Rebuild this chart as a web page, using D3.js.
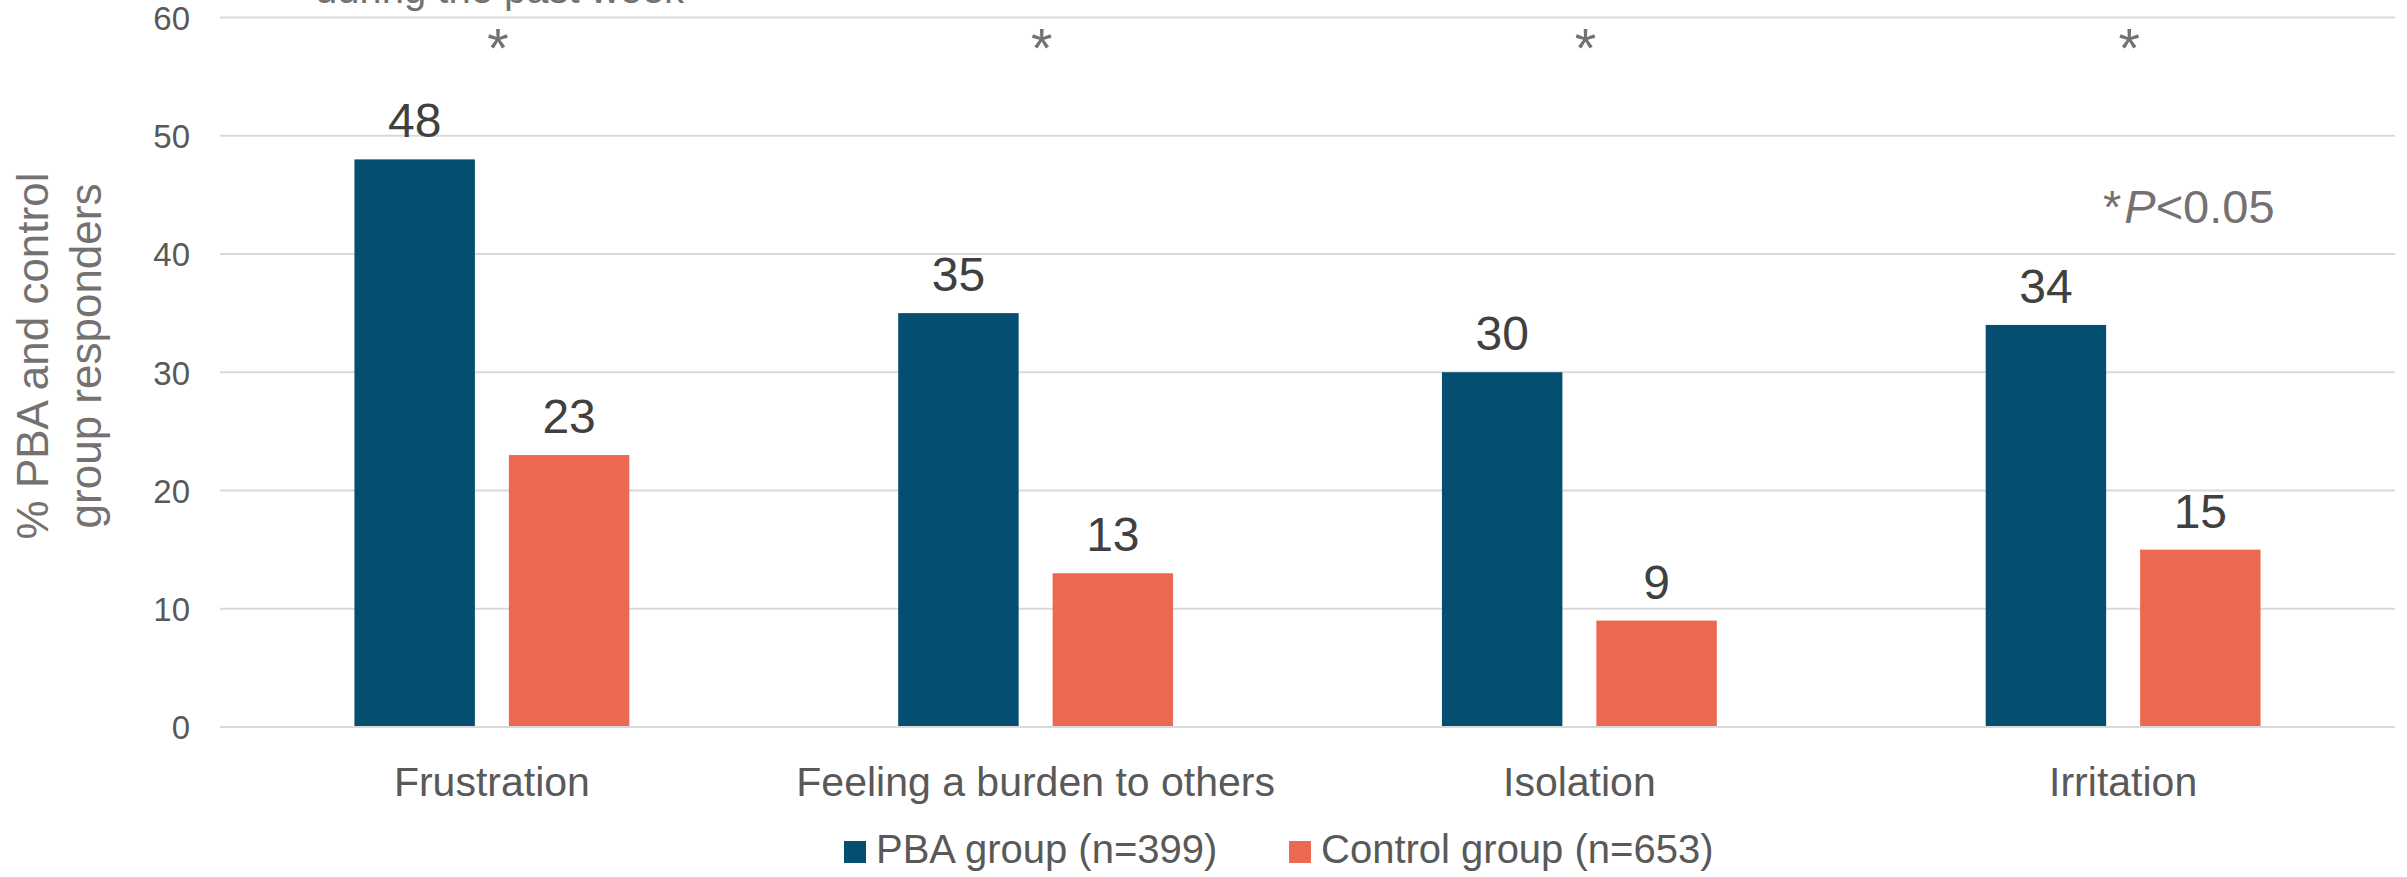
<!DOCTYPE html>
<html>
<head>
<meta charset="utf-8">
<script src="https://cdn.jsdelivr.net/npm/d3@7"></script>
<style>
  html, body { margin: 0; padding: 0; background: #fff; }
  svg { display: block; font-family: "Liberation Sans", Arial, sans-serif; }
</style>
</head>
<body>
<svg id="chart" width="2407" height="877"></svg>
<script>
// ---- data ----
const categories = ["Frustration", "Feeling a burden to others", "Isolation", "Irritation"];
const seriesNames = ["PBA group (n=399)", "Control group (n=653)"];
const pbaValues = [48, 35, 30, 34];
const controlValues = [23, 13, 9, 15];
const significant = [true, true, true, true];
const yTicks = [0, 10, 20, 30, 40, 50, 60];
const yTitleLines = ["% PBA and control", "group responders"];
const topTextLine = "during the past week";
const noteText = ["*", "P", "<0.05"];

// ---- layout ----
const plotLeft = 220, plotRight = 2395, plotTop = 17.5, plotBottom = 727;
const colors = ["#044E6F", "#EC6951"];

const svg = d3.select("#chart");

const x = d3.scaleBand().domain(categories).range([plotLeft, plotRight]).padding(0);
const groupW = x.bandwidth() * 0.5055;
const xs = d3.scaleBand().domain(seriesNames).range([0, groupW]).paddingInner(0.22).paddingOuter(0);
const y = d3.scaleLinear().domain([0, 60]).range([plotBottom, plotTop]);

// gridlines
svg.append("g")
  .selectAll("line")
  .data(yTicks)
  .join("line")
  .attr("x1", plotLeft).attr("x2", plotRight)
  .attr("y1", d => y(d)).attr("y2", d => y(d))
  .attr("stroke", "#D9D9D9").attr("stroke-width", 2);

// y tick labels
const yAxis = d3.axisLeft(y).tickValues(yTicks).tickSize(0).tickPadding(0);
const yg = svg.append("g").attr("transform", `translate(${plotLeft - 30},0)`).call(yAxis);
yg.select(".domain").remove();
yg.selectAll("text")
  .attr("font-family", "Liberation Sans, Arial, sans-serif")
  .attr("font-size", 33).attr("fill", "#595959").attr("dy", "0.36em");

// top partial line of title (cut off by the top edge, as in the source)
svg.append("text")
  .attr("x", 315).attr("y", 3)
  .attr("font-size", 40).attr("fill", "#767171")
  .text(topTextLine);

// y title
const yt = svg.append("g");
yTitleLines.forEach((t, i) => {
  yt.append("text")
    .attr("transform", `translate(${48 + i * 53},356) rotate(-90)`)
    .attr("text-anchor", "middle")
    .attr("font-size", 44).attr("fill", "#767171")
    .text(t);
});

// bars
const rows = categories.map((c, i) => ({ cat: c, vals: [pbaValues[i], controlValues[i]] }));
const groups = svg.append("g").selectAll("g")
  .data(rows).join("g")
  .attr("transform", d => `translate(${x(d.cat) + x.bandwidth() / 2 - groupW / 2},0)`);

groups.selectAll("rect")
  .data(d => d.vals.map((v, k) => ({ v, s: seriesNames[k], k })))
  .join("rect")
  .attr("x", d => xs(d.s))
  .attr("width", xs.bandwidth())
  .attr("y", d => y(d.v))
  .attr("height", d => y(0) - y(d.v))
  .attr("fill", d => colors[d.k]);

groups.selectAll("text.val")
  .data(d => d.vals.map((v, k) => ({ v, s: seriesNames[k], k })))
  .join("text").attr("class", "val")
  .attr("x", d => xs(d.s) + xs.bandwidth() / 2)
  .attr("y", d => y(d.v) - 22)
  .attr("text-anchor", "middle")
  .attr("font-size", 48).attr("fill", "#404040")
  .text(d => d.v);

// baseline
svg.append("line")
  .attr("x1", plotLeft).attr("x2", plotRight)
  .attr("y1", y(0)).attr("y2", y(0))
  .attr("stroke", "#D9D9D9").attr("stroke-width", 2);

// category labels
const xAxis = d3.axisBottom(x).tickSize(0).tickPadding(0);
const xg = svg.append("g").attr("transform", `translate(0,${plotBottom})`).call(xAxis);
xg.select(".domain").remove();
xg.selectAll("text")
  .attr("font-family", "Liberation Sans, Arial, sans-serif")
  .attr("font-size", 41).attr("fill", "#595959")
  .attr("dy", null).attr("y", 69);

// significance asterisks
svg.append("g").selectAll("text")
  .data(categories.filter((c, i) => significant[i]))
  .join("text")
  .attr("x", d => x(d) + x.bandwidth() / 2 + 6)
  .attr("y", 67)
  .attr("text-anchor", "middle")
  .attr("font-size", 55).attr("fill", "#767171")
  .text("*");

// P note
const note = svg.append("text")
  .attr("x", 2103).attr("y", 223)
  .attr("font-size", 47).attr("fill", "#767171");
note.append("tspan").text(noteText[0]);
note.append("tspan").attr("dx", 3).attr("font-style", "italic").text(noteText[1]);
note.append("tspan").text(noteText[2]);

// legend
const legendX = [844, 1289];
const lg = svg.append("g").selectAll("g")
  .data(seriesNames).join("g")
  .attr("transform", (d, i) => `translate(${legendX[i]},0)`);
lg.append("rect").attr("x", 0).attr("y", 841).attr("width", 22).attr("height", 22)
  .attr("fill", (d, i) => colors[i]);
lg.append("text").attr("x", 32).attr("y", 863)
  .attr("font-size", 40).attr("fill", "#595959")
  .text(d => d);
</script>
</body>
</html>
